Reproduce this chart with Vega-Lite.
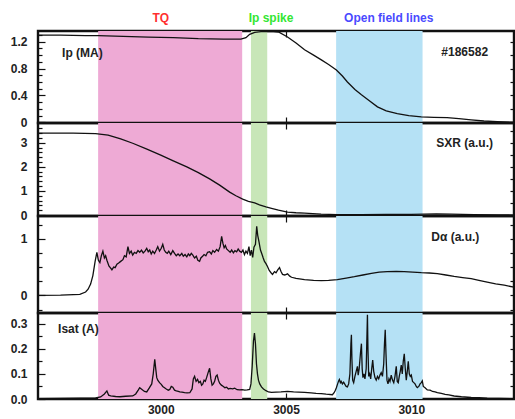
{
  "$schema": "https://vega.github.io/schema/vega-lite/v6.json",
  "padding": {"left": 9, "top": 10, "right": 0, "bottom": 0},
  "spacing": 0,
  "bounds": "flush",
  "config": {
    "view": {"stroke": "#111", "strokeWidth": 2.4},
    "font": "Liberation Sans",
    "axis": {
      "labelFont": "Liberation Sans",
      "labelFontSize": 12,
      "labelFontWeight": "bold",
      "labelColor": "#222",
      "tickColor": "#111",
      "tickWidth": 1.2,
      "domain": false,
      "grid": false,
      "title": null,
      "zindex": 1
    },
    "text": {"font": "Liberation Sans", "fontSize": 12, "fontWeight": "bold"}
  },
  "datasets": {
    "regions": [
      {"region": "TQ", "start": 2997.5, "end": 3003.25},
      {"region": "Ip spike", "start": 3003.6, "end": 3004.25},
      {"region": "Open field lines", "start": 3007.0, "end": 3010.45}
    ],
    "ip": [
      {"t": 2995.1, "v": 1.3}, {"t": 2996.0, "v": 1.298}, {"t": 2997.0, "v": 1.292}, {"t": 2997.5, "v": 1.29},
      {"t": 2998.5, "v": 1.28}, {"t": 2999.5, "v": 1.27}, {"t": 3000.5, "v": 1.26}, {"t": 3001.5, "v": 1.245},
      {"t": 3002.5, "v": 1.24}, {"t": 3003.2, "v": 1.24}, {"t": 3003.4, "v": 1.26}, {"t": 3003.55, "v": 1.31},
      {"t": 3003.75, "v": 1.34}, {"t": 3004.0, "v": 1.35}, {"t": 3004.4, "v": 1.355}, {"t": 3004.7, "v": 1.345},
      {"t": 3005.06, "v": 1.27}, {"t": 3005.4, "v": 1.18}, {"t": 3005.74, "v": 1.08}, {"t": 3006.1, "v": 1.0},
      {"t": 3006.41, "v": 0.93}, {"t": 3006.7, "v": 0.86}, {"t": 3007.01, "v": 0.78}, {"t": 3007.25, "v": 0.69},
      {"t": 3007.45, "v": 0.6}, {"t": 3007.75, "v": 0.49}, {"t": 3008.01, "v": 0.41}, {"t": 3008.3, "v": 0.33},
      {"t": 3008.65, "v": 0.23}, {"t": 3009.0, "v": 0.17}, {"t": 3009.44, "v": 0.13}, {"t": 3009.9, "v": 0.1},
      {"t": 3010.4, "v": 0.08}, {"t": 3010.9, "v": 0.075}, {"t": 3011.43, "v": 0.07}, {"t": 3011.9, "v": 0.055},
      {"t": 3012.39, "v": 0.037}, {"t": 3012.9, "v": 0.02}, {"t": 3013.43, "v": 0.01}, {"t": 3014.1, "v": 0.0}
    ],
    "sxr": [
      {"t": 2995.1, "v": 3.4}, {"t": 2996.5, "v": 3.4}, {"t": 2997.4, "v": 3.38}, {"t": 2997.9, "v": 3.32},
      {"t": 2998.4, "v": 3.16}, {"t": 2998.88, "v": 2.98}, {"t": 2999.4, "v": 2.76}, {"t": 3000.0, "v": 2.49},
      {"t": 3000.5, "v": 2.25}, {"t": 3001.04, "v": 2.0}, {"t": 3001.5, "v": 1.76}, {"t": 3001.95, "v": 1.5},
      {"t": 3002.35, "v": 1.24}, {"t": 3002.75, "v": 0.95}, {"t": 3003.0, "v": 0.8}, {"t": 3003.27, "v": 0.66},
      {"t": 3003.5, "v": 0.57}, {"t": 3003.75, "v": 0.5}, {"t": 3003.94, "v": 0.42}, {"t": 3004.2, "v": 0.34},
      {"t": 3004.42, "v": 0.28}, {"t": 3004.7, "v": 0.2}, {"t": 3005.06, "v": 0.12}, {"t": 3005.4, "v": 0.095},
      {"t": 3005.74, "v": 0.08}, {"t": 3006.4, "v": 0.04}, {"t": 3007.05, "v": 0.02}, {"t": 3008.0, "v": 0.02},
      {"t": 3009.0, "v": 0.025}, {"t": 3010.0, "v": 0.03}, {"t": 3011.0, "v": 0.045}, {"t": 3011.6, "v": 0.04},
      {"t": 3012.5, "v": 0.02}, {"t": 3013.5, "v": 0.01}, {"t": 3014.1, "v": 0.0}
    ],
    "dalpha": [
      {"t": 2995.1, "v": 0.0}, {"t": 2996.0, "v": 0.005}, {"t": 2996.77, "v": 0.02}, {"t": 2997.0, "v": 0.06},
      {"t": 2997.1, "v": 0.11}, {"t": 2997.2, "v": 0.2}, {"t": 2997.29, "v": 0.35}, {"t": 2997.38, "v": 0.6},
      {"t": 2997.45, "v": 0.76}, {"t": 2997.51, "v": 0.62}, {"t": 2997.57, "v": 0.58}, {"t": 2997.63, "v": 0.7},
      {"t": 2997.69, "v": 0.78}, {"t": 2997.75, "v": 0.66}, {"t": 2997.8, "v": 0.7}, {"t": 2997.85, "v": 0.62},
      {"t": 2997.93, "v": 0.52}, {"t": 2998.0, "v": 0.48}, {"t": 2998.05, "v": 0.45}, {"t": 2998.12, "v": 0.5},
      {"t": 2998.18, "v": 0.49}, {"t": 2998.25, "v": 0.55}, {"t": 2998.32, "v": 0.57}, {"t": 2998.4, "v": 0.6},
      {"t": 2998.49, "v": 0.63}, {"t": 2998.55, "v": 0.7}, {"t": 2998.62, "v": 0.68}, {"t": 2998.69, "v": 0.86},
      {"t": 2998.75, "v": 0.74}, {"t": 2998.82, "v": 0.78}, {"t": 2998.88, "v": 0.71}, {"t": 2998.95, "v": 0.76},
      {"t": 2999.02, "v": 0.74}, {"t": 2999.09, "v": 0.79}, {"t": 2999.16, "v": 0.76}, {"t": 2999.23, "v": 0.8},
      {"t": 2999.3, "v": 0.75}, {"t": 2999.37, "v": 0.78}, {"t": 2999.44, "v": 0.83}, {"t": 2999.5, "v": 0.77},
      {"t": 2999.56, "v": 0.8}, {"t": 2999.62, "v": 0.73}, {"t": 2999.68, "v": 0.78}, {"t": 2999.75, "v": 0.74},
      {"t": 2999.82, "v": 0.8}, {"t": 2999.88, "v": 0.86}, {"t": 2999.95, "v": 0.78}, {"t": 3000.02, "v": 0.83},
      {"t": 3000.08, "v": 0.9}, {"t": 3000.14, "v": 0.8}, {"t": 3000.2, "v": 0.76}, {"t": 3000.26, "v": 0.74},
      {"t": 3000.32, "v": 0.78}, {"t": 3000.4, "v": 0.72}, {"t": 3000.48, "v": 0.79}, {"t": 3000.55, "v": 0.74},
      {"t": 3000.62, "v": 0.7}, {"t": 3000.69, "v": 0.73}, {"t": 3000.76, "v": 0.7}, {"t": 3000.84, "v": 0.74},
      {"t": 3000.9, "v": 0.69}, {"t": 3000.97, "v": 0.72}, {"t": 3001.04, "v": 0.68}, {"t": 3001.1, "v": 0.73},
      {"t": 3001.16, "v": 0.7}, {"t": 3001.22, "v": 0.74}, {"t": 3001.28, "v": 0.71}, {"t": 3001.35, "v": 0.66},
      {"t": 3001.42, "v": 0.69}, {"t": 3001.48, "v": 0.62}, {"t": 3001.55, "v": 0.6}, {"t": 3001.6, "v": 0.66},
      {"t": 3001.67, "v": 0.69}, {"t": 3001.73, "v": 0.72}, {"t": 3001.8, "v": 0.7}, {"t": 3001.87, "v": 0.76},
      {"t": 3001.95, "v": 0.77}, {"t": 3002.02, "v": 0.73}, {"t": 3002.08, "v": 0.79}, {"t": 3002.15, "v": 0.76},
      {"t": 3002.23, "v": 0.81}, {"t": 3002.3, "v": 0.78}, {"t": 3002.37, "v": 0.86}, {"t": 3002.43, "v": 1.04},
      {"t": 3002.48, "v": 0.92}, {"t": 3002.53, "v": 0.84}, {"t": 3002.58, "v": 0.88}, {"t": 3002.63, "v": 0.82},
      {"t": 3002.7, "v": 0.79}, {"t": 3002.77, "v": 0.76}, {"t": 3002.83, "v": 0.8}, {"t": 3002.9, "v": 0.75},
      {"t": 3002.96, "v": 0.79}, {"t": 3003.03, "v": 0.77}, {"t": 3003.09, "v": 0.82}, {"t": 3003.15, "v": 0.78},
      {"t": 3003.22, "v": 0.76}, {"t": 3003.28, "v": 0.8}, {"t": 3003.34, "v": 0.72}, {"t": 3003.4, "v": 0.78},
      {"t": 3003.46, "v": 0.74}, {"t": 3003.52, "v": 0.86}, {"t": 3003.57, "v": 0.7}, {"t": 3003.62, "v": 0.8},
      {"t": 3003.67, "v": 0.67}, {"t": 3003.72, "v": 0.85}, {"t": 3003.78, "v": 0.9}, {"t": 3003.83, "v": 1.22},
      {"t": 3003.87, "v": 1.06}, {"t": 3003.92, "v": 0.95}, {"t": 3003.98, "v": 0.8}, {"t": 3004.03, "v": 0.74},
      {"t": 3004.09, "v": 0.66}, {"t": 3004.14, "v": 0.6}, {"t": 3004.2, "v": 0.56}, {"t": 3004.26, "v": 0.51},
      {"t": 3004.33, "v": 0.44}, {"t": 3004.4, "v": 0.4}, {"t": 3004.46, "v": 0.37}, {"t": 3004.54, "v": 0.42},
      {"t": 3004.6, "v": 0.4}, {"t": 3004.67, "v": 0.45}, {"t": 3004.74, "v": 0.49}, {"t": 3004.8, "v": 0.42},
      {"t": 3004.86, "v": 0.37}, {"t": 3004.95, "v": 0.36}, {"t": 3005.06, "v": 0.38}, {"t": 3005.15, "v": 0.34},
      {"t": 3005.22, "v": 0.32}, {"t": 3005.4, "v": 0.3}, {"t": 3005.74, "v": 0.28}, {"t": 3006.1, "v": 0.265},
      {"t": 3006.41, "v": 0.26}, {"t": 3006.7, "v": 0.265}, {"t": 3007.05, "v": 0.28}, {"t": 3007.4, "v": 0.305},
      {"t": 3007.73, "v": 0.33}, {"t": 3008.07, "v": 0.36}, {"t": 3008.41, "v": 0.39}, {"t": 3008.72, "v": 0.41},
      {"t": 3009.04, "v": 0.42}, {"t": 3009.4, "v": 0.425}, {"t": 3009.72, "v": 0.42}, {"t": 3010.06, "v": 0.41},
      {"t": 3010.4, "v": 0.4}, {"t": 3010.72, "v": 0.395}, {"t": 3011.04, "v": 0.385}, {"t": 3011.38, "v": 0.36},
      {"t": 3011.71, "v": 0.335}, {"t": 3012.05, "v": 0.315}, {"t": 3012.39, "v": 0.295}, {"t": 3012.7, "v": 0.265},
      {"t": 3013.03, "v": 0.235}, {"t": 3013.37, "v": 0.205}, {"t": 3013.71, "v": 0.18}, {"t": 3014.1, "v": 0.145}
    ],
    "isat": [
      {"t": 2995.1, "v": 0.001}, {"t": 2996.0, "v": 0.002}, {"t": 2996.8, "v": 0.003}, {"t": 2997.4, "v": 0.004},
      {"t": 2997.6, "v": 0.008}, {"t": 2997.75, "v": 0.02}, {"t": 2997.85, "v": 0.032}, {"t": 2997.92, "v": 0.015},
      {"t": 2998.0, "v": 0.012}, {"t": 2998.2, "v": 0.01}, {"t": 2998.37, "v": 0.009}, {"t": 2998.6, "v": 0.011},
      {"t": 2998.88, "v": 0.012}, {"t": 2999.0, "v": 0.02}, {"t": 2999.1, "v": 0.035}, {"t": 2999.16, "v": 0.045},
      {"t": 2999.25, "v": 0.038}, {"t": 2999.35, "v": 0.03}, {"t": 2999.44, "v": 0.028}, {"t": 2999.55, "v": 0.045},
      {"t": 2999.64, "v": 0.06}, {"t": 2999.7, "v": 0.1}, {"t": 2999.76, "v": 0.158}, {"t": 2999.8, "v": 0.12},
      {"t": 2999.84, "v": 0.085}, {"t": 2999.88, "v": 0.075}, {"t": 2999.95, "v": 0.065}, {"t": 3000.02, "v": 0.058},
      {"t": 3000.08, "v": 0.05}, {"t": 3000.15, "v": 0.045}, {"t": 3000.22, "v": 0.04}, {"t": 3000.3, "v": 0.035},
      {"t": 3000.36, "v": 0.038}, {"t": 3000.42, "v": 0.05}, {"t": 3000.48, "v": 0.047}, {"t": 3000.55, "v": 0.035},
      {"t": 3000.62, "v": 0.032}, {"t": 3000.7, "v": 0.03}, {"t": 3000.76, "v": 0.028}, {"t": 3000.85, "v": 0.027},
      {"t": 3000.95, "v": 0.025}, {"t": 3001.05, "v": 0.024}, {"t": 3001.16, "v": 0.025}, {"t": 3001.25, "v": 0.04},
      {"t": 3001.3, "v": 0.08}, {"t": 3001.35, "v": 0.09}, {"t": 3001.41, "v": 0.07}, {"t": 3001.47, "v": 0.078},
      {"t": 3001.52, "v": 0.065}, {"t": 3001.58, "v": 0.07}, {"t": 3001.63, "v": 0.055}, {"t": 3001.68, "v": 0.06},
      {"t": 3001.73, "v": 0.075}, {"t": 3001.78, "v": 0.07}, {"t": 3001.83, "v": 0.085}, {"t": 3001.89, "v": 0.105},
      {"t": 3001.95, "v": 0.122}, {"t": 3002.0, "v": 0.08}, {"t": 3002.05, "v": 0.055}, {"t": 3002.1, "v": 0.06},
      {"t": 3002.15, "v": 0.07}, {"t": 3002.2, "v": 0.09}, {"t": 3002.25, "v": 0.095}, {"t": 3002.3, "v": 0.075},
      {"t": 3002.35, "v": 0.063}, {"t": 3002.42, "v": 0.055}, {"t": 3002.5, "v": 0.05}, {"t": 3002.56, "v": 0.045},
      {"t": 3002.63, "v": 0.047}, {"t": 3002.7, "v": 0.04}, {"t": 3002.77, "v": 0.042}, {"t": 3002.87, "v": 0.04},
      {"t": 3002.95, "v": 0.043}, {"t": 3003.05, "v": 0.037}, {"t": 3003.15, "v": 0.036}, {"t": 3003.25, "v": 0.037},
      {"t": 3003.35, "v": 0.035}, {"t": 3003.45, "v": 0.036}, {"t": 3003.55, "v": 0.038}, {"t": 3003.6, "v": 0.06},
      {"t": 3003.65, "v": 0.13}, {"t": 3003.7, "v": 0.23}, {"t": 3003.74, "v": 0.262}, {"t": 3003.78, "v": 0.22},
      {"t": 3003.82, "v": 0.14}, {"t": 3003.86, "v": 0.1}, {"t": 3003.9, "v": 0.075}, {"t": 3003.95, "v": 0.06},
      {"t": 3004.02, "v": 0.048}, {"t": 3004.1, "v": 0.04}, {"t": 3004.2, "v": 0.033}, {"t": 3004.3, "v": 0.028},
      {"t": 3004.42, "v": 0.026}, {"t": 3004.6, "v": 0.027}, {"t": 3004.8, "v": 0.028}, {"t": 3005.06, "v": 0.03},
      {"t": 3005.3, "v": 0.028}, {"t": 3005.5, "v": 0.027}, {"t": 3005.74, "v": 0.026}, {"t": 3006.0, "v": 0.024},
      {"t": 3006.2, "v": 0.022}, {"t": 3006.41, "v": 0.021}, {"t": 3006.6, "v": 0.019}, {"t": 3006.85, "v": 0.017},
      {"t": 3006.92, "v": 0.025}, {"t": 3006.97, "v": 0.035}, {"t": 3007.01, "v": 0.045}, {"t": 3007.06, "v": 0.06},
      {"t": 3007.1, "v": 0.072}, {"t": 3007.13, "v": 0.078}, {"t": 3007.17, "v": 0.065}, {"t": 3007.2, "v": 0.07},
      {"t": 3007.25, "v": 0.06}, {"t": 3007.3, "v": 0.067}, {"t": 3007.35, "v": 0.058}, {"t": 3007.4, "v": 0.05},
      {"t": 3007.45, "v": 0.048}, {"t": 3007.5, "v": 0.06}, {"t": 3007.55, "v": 0.1}, {"t": 3007.59, "v": 0.22},
      {"t": 3007.61, "v": 0.255}, {"t": 3007.63, "v": 0.16}, {"t": 3007.66, "v": 0.075}, {"t": 3007.7, "v": 0.065},
      {"t": 3007.75, "v": 0.09}, {"t": 3007.8, "v": 0.11}, {"t": 3007.85, "v": 0.13}, {"t": 3007.88, "v": 0.095},
      {"t": 3007.92, "v": 0.12}, {"t": 3007.97, "v": 0.18}, {"t": 3008.01, "v": 0.22}, {"t": 3008.04, "v": 0.12},
      {"t": 3008.07, "v": 0.085}, {"t": 3008.11, "v": 0.1}, {"t": 3008.15, "v": 0.08}, {"t": 3008.2, "v": 0.12},
      {"t": 3008.23, "v": 0.25}, {"t": 3008.25, "v": 0.335}, {"t": 3008.27, "v": 0.2}, {"t": 3008.3, "v": 0.09},
      {"t": 3008.34, "v": 0.1}, {"t": 3008.38, "v": 0.08}, {"t": 3008.42, "v": 0.12}, {"t": 3008.46, "v": 0.155},
      {"t": 3008.5, "v": 0.11}, {"t": 3008.55, "v": 0.085}, {"t": 3008.6, "v": 0.075}, {"t": 3008.65, "v": 0.09},
      {"t": 3008.7, "v": 0.08}, {"t": 3008.75, "v": 0.095}, {"t": 3008.8, "v": 0.105}, {"t": 3008.85, "v": 0.09},
      {"t": 3008.9, "v": 0.14}, {"t": 3008.93, "v": 0.22}, {"t": 3008.96, "v": 0.275}, {"t": 3008.99, "v": 0.18},
      {"t": 3009.03, "v": 0.075}, {"t": 3009.07, "v": 0.06}, {"t": 3009.11, "v": 0.08}, {"t": 3009.15, "v": 0.07},
      {"t": 3009.2, "v": 0.095}, {"t": 3009.25, "v": 0.075}, {"t": 3009.3, "v": 0.065}, {"t": 3009.35, "v": 0.09},
      {"t": 3009.4, "v": 0.13}, {"t": 3009.44, "v": 0.07}, {"t": 3009.48, "v": 0.065}, {"t": 3009.52, "v": 0.09},
      {"t": 3009.56, "v": 0.11}, {"t": 3009.6, "v": 0.135}, {"t": 3009.64, "v": 0.1}, {"t": 3009.68, "v": 0.15},
      {"t": 3009.72, "v": 0.18}, {"t": 3009.76, "v": 0.12}, {"t": 3009.8, "v": 0.075}, {"t": 3009.84, "v": 0.11},
      {"t": 3009.88, "v": 0.15}, {"t": 3009.92, "v": 0.1}, {"t": 3009.96, "v": 0.09}, {"t": 3010.0, "v": 0.095},
      {"t": 3010.05, "v": 0.07}, {"t": 3010.1, "v": 0.065}, {"t": 3010.15, "v": 0.06}, {"t": 3010.2, "v": 0.05},
      {"t": 3010.24, "v": 0.045}, {"t": 3010.3, "v": 0.05}, {"t": 3010.35, "v": 0.06}, {"t": 3010.4, "v": 0.065},
      {"t": 3010.44, "v": 0.072}, {"t": 3010.48, "v": 0.05}, {"t": 3010.55, "v": 0.045}, {"t": 3010.64, "v": 0.036},
      {"t": 3010.75, "v": 0.035}, {"t": 3010.85, "v": 0.03}, {"t": 3010.95, "v": 0.028}, {"t": 3011.04, "v": 0.025},
      {"t": 3011.2, "v": 0.022}, {"t": 3011.35, "v": 0.018}, {"t": 3011.5, "v": 0.016}, {"t": 3011.71, "v": 0.012},
      {"t": 3012.0, "v": 0.009}, {"t": 3012.39, "v": 0.006}, {"t": 3012.7, "v": 0.005}, {"t": 3013.03, "v": 0.003},
      {"t": 3013.5, "v": 0.002}, {"t": 3014.1, "v": 0.001}
    ]
  },
  "vconcat": [
    {
      "width": 476, "height": 92,
      "resolve": {"axis": {"x": "independent", "y": "independent"}},
      "layer": [
        {
          "data": {"name": "regions"},
          "mark": {"type": "rect"},
          "encoding": {
            "x": {"field": "start", "type": "quantitative", "scale": {"domain": [2995.1, 3014.1], "nice": false, "zero": false},
                  "axis": {"orient": "top", "values": [3000, 3005, 3010], "tickSize": -6, "labels": false}},
            "x2": {"field": "end"},
            "color": {"field": "region", "type": "nominal", "legend": null,
                      "scale": {"domain": ["TQ", "Ip spike", "Open field lines"], "range": ["#eeaad5", "#c8e6b8", "#b5e1f5"]}}
          }
        },
        {
          "data": {"name": "ip"},
          "mark": {"type": "line", "color": "#111", "strokeWidth": 1.3},
          "encoding": {
            "x": {"field": "t", "type": "quantitative", "axis": {"orient": "bottom", "values": [3000, 3005, 3010], "tickSize": -6, "labels": false}},
            "y": {"field": "v", "type": "quantitative", "scale": {"domain": [-0.01, 1.36], "nice": false, "zero": false},
                  "axis": {"orient": "left", "values": [0, 0.4, 0.8, 1.2], "format": ".1~f", "tickSize": -7, "labelPadding": 18}}
          }
        },
        {
          "data": {"values": [{}]},
          "mark": {"type": "text", "align": "left", "baseline": "middle", "color": "#222"},
          "encoding": {
            "x": {"datum": 2996.06, "type": "quantitative", "axis": null},
            "y": {"datum": 1.036, "type": "quantitative",
                  "axis": {"orient": "left", "values": [0.1, 0.2, 0.3, 0.5, 0.6, 0.7, 0.9, 1.0, 1.1, 1.3], "tickSize": -4, "labels": false}},
            "text": {"value": "Ip (MA)"}
          }
        },
        {
          "data": {"values": [{}]},
          "mark": {"type": "text", "align": "left", "baseline": "middle", "color": "#222"},
          "encoding": {
            "x": {"datum": 3011.2, "type": "quantitative", "axis": null},
            "y": {"datum": 1.05, "type": "quantitative",
                  "axis": {"orient": "right", "values": [0, 0.2, 0.4, 0.6, 0.8, 1.0, 1.2], "tickSize": -4, "labels": false}},
            "text": {"value": "#186582"}
          }
        },
        {
          "data": {"values": [{}]},
          "mark": {"type": "text", "align": "center", "baseline": "middle", "color": "#ff2f2f"},
          "encoding": {
            "x": {"datum": 3000.0, "type": "quantitative", "axis": null},
            "y": {"datum": 1.557, "type": "quantitative", "axis": null},
            "text": {"value": "TQ"}
          }
        },
        {
          "data": {"values": [{}]},
          "mark": {"type": "text", "align": "center", "baseline": "middle", "color": "#33e633"},
          "encoding": {
            "x": {"datum": 3004.4, "type": "quantitative", "axis": null},
            "y": {"datum": 1.557, "type": "quantitative", "axis": null},
            "text": {"value": "Ip spike"}
          }
        },
        {
          "data": {"values": [{}]},
          "mark": {"type": "text", "align": "center", "baseline": "middle", "color": "#4a4aff"},
          "encoding": {
            "x": {"datum": 3009.1, "type": "quantitative", "axis": null},
            "y": {"datum": 1.557, "type": "quantitative", "axis": null},
            "text": {"value": "Open field lines"}
          }
        }
      ]
    },
    {
      "width": 476, "height": 93,
      "resolve": {"axis": {"x": "independent", "y": "independent"}},
      "layer": [
        {
          "data": {"name": "regions"},
          "mark": {"type": "rect"},
          "encoding": {
            "x": {"field": "start", "type": "quantitative", "scale": {"domain": [2995.1, 3014.1], "nice": false, "zero": false},
                  "axis": {"orient": "top", "values": [3000, 3005, 3010], "tickSize": -6, "labels": false}},
            "x2": {"field": "end"},
            "color": {"field": "region", "type": "nominal", "legend": null,
                      "scale": {"domain": ["TQ", "Ip spike", "Open field lines"], "range": ["#eeaad5", "#c8e6b8", "#b5e1f5"]}}
          }
        },
        {
          "data": {"name": "sxr"},
          "mark": {"type": "line", "color": "#111", "strokeWidth": 1.3},
          "encoding": {
            "x": {"field": "t", "type": "quantitative", "axis": {"orient": "bottom", "values": [3000, 3005, 3010], "tickSize": -6, "labels": false}},
            "y": {"field": "v", "type": "quantitative", "scale": {"domain": [-0.04, 3.82], "nice": false, "zero": false},
                  "axis": {"orient": "left", "values": [0, 1, 2, 3], "format": "d", "tickSize": -7, "labelPadding": 18}}
          }
        },
        {
          "data": {"values": [{}]},
          "mark": {"type": "text", "align": "left", "baseline": "middle", "color": "#222"},
          "encoding": {
            "x": {"datum": 3011.0, "type": "quantitative", "axis": null},
            "y": {"datum": 2.99, "type": "quantitative",
                  "axis": {"orient": "left", "values": [0.2, 0.4, 0.6, 0.8, 1.2, 1.4, 1.6, 1.8, 2.2, 2.4, 2.6, 2.8, 3.2, 3.4, 3.6], "tickSize": -4, "labels": false}},
            "text": {"value": "SXR (a.u.)"}
          }
        },
        {
          "data": {"values": [{}]},
          "mark": {"type": "rule", "opacity": 0},
          "encoding": {
            "y": {"datum": 0, "type": "quantitative",
                  "axis": {"orient": "right", "values": [0, 0.5, 1, 1.5, 2, 2.5, 3, 3.5], "tickSize": -4, "labels": false}}
          }
        }
      ]
    },
    {
      "width": 476, "height": 97,
      "resolve": {"axis": {"x": "independent", "y": "independent"}},
      "layer": [
        {
          "data": {"name": "regions"},
          "mark": {"type": "rect"},
          "encoding": {
            "x": {"field": "start", "type": "quantitative", "scale": {"domain": [2995.1, 3014.1], "nice": false, "zero": false},
                  "axis": {"orient": "top", "values": [3000, 3005, 3010], "tickSize": -6, "labels": false}},
            "x2": {"field": "end"},
            "color": {"field": "region", "type": "nominal", "legend": null,
                      "scale": {"domain": ["TQ", "Ip spike", "Open field lines"], "range": ["#eeaad5", "#c8e6b8", "#b5e1f5"]}}
          }
        },
        {
          "data": {"name": "dalpha"},
          "mark": {"type": "line", "color": "#111", "strokeWidth": 1.3},
          "encoding": {
            "x": {"field": "t", "type": "quantitative", "axis": {"orient": "bottom", "values": [3000, 3005, 3010], "tickSize": -6, "labels": false}},
            "y": {"field": "v", "type": "quantitative", "scale": {"domain": [-0.31, 1.4], "nice": false, "zero": false},
                  "axis": {"orient": "left", "values": [0, 1], "format": "d", "tickSize": -7, "labelPadding": 18}}
          }
        },
        {
          "data": {"values": [{}]},
          "mark": {"type": "text", "align": "left", "baseline": "middle", "color": "#222"},
          "encoding": {
            "x": {"datum": 3010.8, "type": "quantitative", "axis": null},
            "y": {"datum": 1.035, "type": "quantitative",
                  "axis": {"orient": "left", "values": [-0.25, 0.25, 0.5, 0.75, 1.25], "tickSize": -4, "labels": false}},
            "text": {"value": "Dα (a.u.)"}
          }
        },
        {
          "data": {"values": [{}]},
          "mark": {"type": "rule", "opacity": 0},
          "encoding": {
            "y": {"datum": 0, "type": "quantitative",
                  "axis": {"orient": "right", "values": [-0.25, 0, 0.25, 0.5, 0.75, 1, 1.25], "tickSize": -4, "labels": false}}
          }
        }
      ]
    },
    {
      "width": 476, "height": 86,
      "resolve": {"axis": {"x": "independent", "y": "independent"}},
      "layer": [
        {
          "data": {"name": "regions"},
          "mark": {"type": "rect"},
          "encoding": {
            "x": {"field": "start", "type": "quantitative", "scale": {"domain": [2995.1, 3014.1], "nice": false, "zero": false},
                  "axis": {"orient": "top", "values": [3000, 3005, 3010], "tickSize": -6, "labels": false}},
            "x2": {"field": "end"},
            "color": {"field": "region", "type": "nominal", "legend": null,
                      "scale": {"domain": ["TQ", "Ip spike", "Open field lines"], "range": ["#eeaad5", "#c8e6b8", "#b5e1f5"]}}
          }
        },
        {
          "data": {"name": "isat"},
          "mark": {"type": "line", "color": "#111", "strokeWidth": 1.3},
          "encoding": {
            "x": {"field": "t", "type": "quantitative",
                  "axis": {"orient": "bottom", "values": [3000, 3005, 3010], "format": "d", "tickSize": -6, "labelPadding": 11}},
            "y": {"field": "v", "type": "quantitative", "scale": {"domain": [0, 0.342], "nice": false, "zero": false},
                  "axis": {"orient": "left", "values": [0, 0.1, 0.2, 0.3], "format": ".1f", "tickSize": -7, "labelPadding": 18}}
          }
        },
        {
          "data": {"values": [{}]},
          "mark": {"type": "text", "align": "left", "baseline": "middle", "color": "#222"},
          "encoding": {
            "x": {"datum": 2995.9, "type": "quantitative", "axis": null},
            "y": {"datum": 0.28, "type": "quantitative",
                  "axis": {"orient": "left", "values": [0.05, 0.15, 0.25], "tickSize": -4, "labels": false}},
            "text": {"value": "Isat (A)"}
          }
        },
        {
          "data": {"values": [{}]},
          "mark": {"type": "rule", "opacity": 0},
          "encoding": {
            "y": {"datum": 0, "type": "quantitative",
                  "axis": {"orient": "right", "values": [0.05, 0.1, 0.15, 0.2, 0.25, 0.3], "tickSize": -4, "labels": false}}
          }
        }
      ]
    }
  ]
}
